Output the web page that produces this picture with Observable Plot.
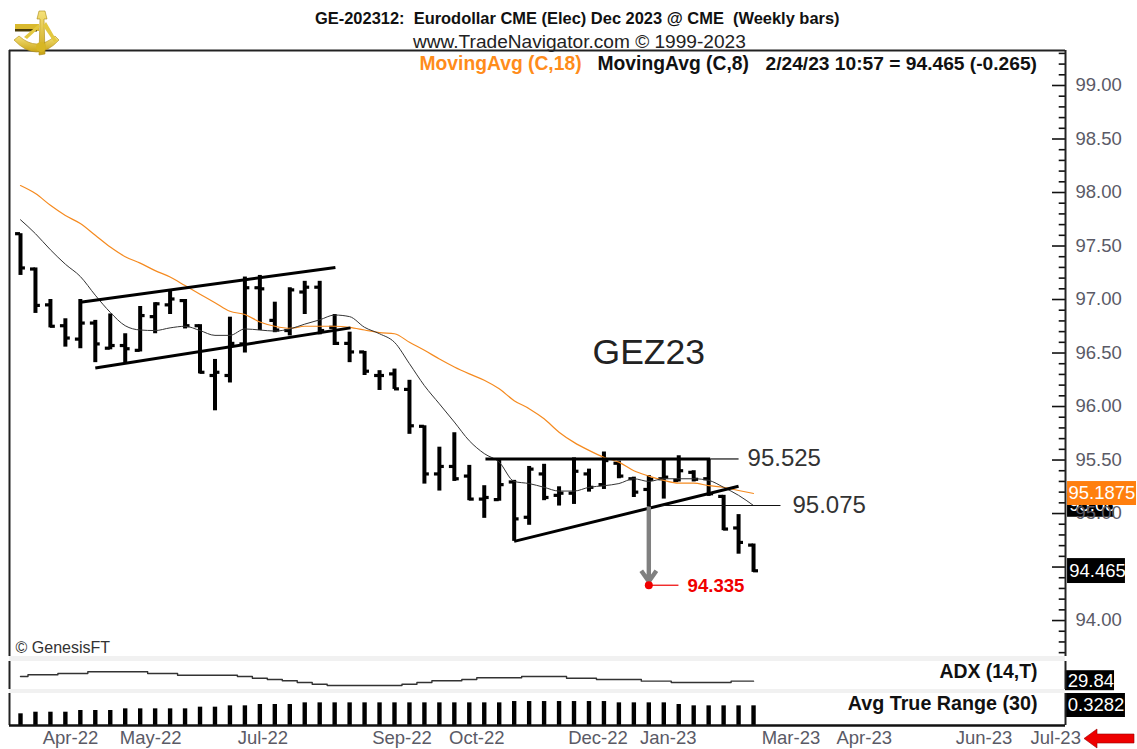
<!DOCTYPE html>
<html>
<head>
<meta charset="utf-8">
<script src="https://cdn.jsdelivr.net/npm/d3@7"></script>
<script src="https://cdn.jsdelivr.net/npm/@observablehq/plot@0.6"></script>
<style>
html,body{margin:0;padding:0;background:#fff;overflow:hidden}
#page{position:relative;width:1137px;height:749px;font-family:"Liberation Sans",Arial,sans-serif;overflow:hidden}
#head{height:50px;position:relative}
#head div{position:absolute;white-space:pre;color:#111}
#page svg{display:block;overflow:visible}
.band{position:absolute;left:9px;width:1056px;background:#f1f1f1}
#logo,#flag{position:absolute;z-index:5}
</style>
</head>
<body>
<div id="page">
  <div class="band" style="top:656px;height:5px"></div>
  <div class="band" style="top:689px;height:4px"></div>
  <svg id="logo" style="left:12px;top:8px" width="50" height="50" viewBox="0 0 50 50">
    <defs><linearGradient id="gold" x1="0" y1="0" x2="0" y2="1"><stop offset="0" stop-color="#f6e27a"/><stop offset="1" stop-color="#c9a415"/></linearGradient></defs>
    <path d="M2 32 Q25 56 47 32 L43 28 Q25 44 7 28Z" fill="url(#gold)" stroke="#b08d12" stroke-width=".6"/>
    <path d="M31 3 L37 3 L39 11 L36 11 L37 46 L31 47 L32 11 L29 11Z" fill="url(#gold)" stroke="#a8870f" stroke-width=".6" transform="translate(-4,0)"/>
    <rect x="3" y="16" width="24" height="7" fill="#d9b92e"/><rect x="3" y="21" width="22" height="2.5" fill="#4a3c08"/>
    <path d="M34 14 L45 33 L42 34 L31 18Z M12 29 L27 16 L28 19 L15 31Z" fill="#e3c83f"/>
    <circle cx="29" cy="39" r="5" fill="#d7b624"/>
  </svg>
  <svg id="flag" style="left:1083px;top:728px" width="52" height="21" viewBox="0 0 52 21">
    <polygon points="1,10.5 14,1 14,6 51,6 51,15 14,15 14,20" fill="#ee0000" stroke="#900" stroke-width=".6"/>
  </svg>
  <div id="head"></div>
  <div id="charts"></div>
</div>
<script>
// ---- header text
const titleText = "GE-202312:  Eurodollar CME (Elec) Dec 2023 @ CME  (Weekly bars)";
const creditText = "www.TradeNavigator.com \u00a9 1999-2023";

// ---- weekly OHLC, one entry per bar
const opens  = [97.615,97.285,96.95,96.755,96.63,96.78,96.545,96.57,96.525,96.84,96.95,96.99,96.755,96.29,96.29,96.585,97.11,96.805,96.71,97.07,97.115,96.74,96.59,96.51,96.29,96.305,96.16,95.815,95.37,95.44,95.35,95.135,95.13,95.295,94.965,95.37,95.17,95.19,95.37,95.27,95.47,95.325,95.225,95.325,95.31,95.385,95.325,95.16,94.865,94.705];
const highs  = [97.615,97.295,97.0,96.82,97.0,96.805,96.865,96.68,96.935,96.97,97.09,97.0,96.765,96.44,96.835,97.21,97.225,96.975,97.11,97.17,97.17,96.86,96.695,96.515,96.335,96.35,96.245,95.82,95.62,95.755,95.45,95.26,95.505,95.31,95.44,95.46,95.25,95.52,95.415,95.575,95.49,95.34,95.355,95.51,95.54,95.40,95.505,95.17,94.99,94.715];
const lows   = [97.225,96.87,96.735,96.555,96.54,96.41,96.53,96.41,96.51,96.68,96.86,96.725,96.305,95.96,96.22,96.5,96.71,96.69,96.66,96.86,96.67,96.57,96.41,96.29,96.15,96.16,95.74,95.275,95.21,95.30,95.12,94.955,95.115,94.74,94.89,95.12,95.07,95.085,95.2,95.225,95.325,95.15,95.06,95.135,95.295,95.295,95.16,94.84,94.62,94.45];
const closes = [97.295,96.945,96.75,96.64,96.78,96.585,96.57,96.54,96.85,96.96,97.005,96.755,96.32,96.32,96.59,97.11,97.10,96.715,97.09,97.115,96.71,96.59,96.51,96.33,96.29,96.165,95.82,95.37,95.44,95.325,95.135,95.15,95.27,94.95,95.415,95.15,95.19,95.395,95.245,95.495,95.35,95.2,95.32,95.34,95.40,95.32,95.185,94.855,94.73,94.465];
const ma8    = [97.745,97.615,97.465,97.33,97.215,97.04,96.88,96.755,96.715,96.71,96.735,96.75,96.71,96.665,96.665,96.725,96.715,96.705,96.725,96.77,96.81,96.855,96.84,96.74,96.68,96.60,96.40,96.195,96.025,95.855,95.68,95.56,95.48,95.30,95.28,95.245,95.21,95.21,95.245,95.26,95.28,95.325,95.30,95.325,95.325,95.325,95.31,95.245,95.17,95.075];
const ma18   = [98.065,97.99,97.88,97.785,97.71,97.60,97.49,97.40,97.34,97.27,97.21,97.13,97.05,96.97,96.89,96.86,96.79,96.75,96.73,96.75,96.75,96.75,96.74,96.715,96.69,96.68,96.60,96.525,96.445,96.37,96.305,96.245,96.165,96.055,95.98,95.885,95.76,95.665,95.59,95.525,95.48,95.40,95.35,95.31,95.285,95.285,95.26,95.245,95.215,95.1875];
const adx    = [34.5,36.2,36.2,37.5,37.5,39.2,39.2,39.2,39.2,37.5,37.5,35.8,35.8,35.8,35.8,34.5,32.8,31.5,30.2,28.5,26.8,25.5,25.5,25.5,25.5,25.5,26.8,28.5,30.2,30.2,31.5,33.2,33.2,33.2,34.5,34.5,34.5,32.8,32.8,31.5,31.5,31.5,29.84,29.84,28.5,28.5,28.5,28.5,29.84,29.84];
const atr    = [0.195,0.222,0.222,0.222,0.25,0.25,0.25,0.278,0.278,0.278,0.278,0.278,0.306,0.306,0.328,0.328,0.35,0.35,0.35,0.378,0.378,0.378,0.378,0.378,0.378,0.378,0.378,0.378,0.378,0.378,0.378,0.378,0.378,0.40,0.40,0.40,0.40,0.40,0.40,0.40,0.378,0.378,0.378,0.378,0.35,0.328,0.328,0.328,0.328,0.3282];
const weeks = opens.map((_, i) => i);

// ---- axis
const dateTicks  = [3.34,8.7,16.2,25.5,30.5,38.6,43.3,51.5,56.4,64.4,69.2];
const dateLabels = ["Apr-22","May-22","Jul-22","Sep-22","Oct-22","Dec-22","Jan-23","Mar-23","Apr-23","Jun-23","Jul-23"];
const majorTicks = [94,94.5,95,95.5,96,96.5,97,97.5,98,98.5,99];
const labelledTicks = [94,95,95.5,96,96.5,97,97.5,98,98.5,99]; // 94.50 sits under the last-price tag
const minorTicks = [93.7,93.8,93.9,94.1,94.2,94.3,94.4,94.6,94.7,94.8,94.9,95.1,95.2,95.3,95.4,95.6,95.7,95.8,95.9,96.1,96.2,96.3,96.4,96.6,96.7,96.8,96.9,97.1,97.2,97.3,97.4,97.6,97.7,97.8,97.9,98.1,98.2,98.3,98.4,98.6,98.7,98.8,98.9,99.1,99.2,99.3];

// ---- hand-drawn trend lines, in bar / price units
const thickLines = [
  {x1:4,   y1:96.975, x2:21.05, y2:97.30},
  {x1:5,   y1:96.36,  x2:22.06, y2:96.735},
  {x1:31.08,y1:95.51, x2:46.1,  y2:95.51},
  {x1:33,  y1:94.74,  x2:48,    y2:95.255}
];
const thinLines = [
  {x1:46.1, y1:95.51, x2:48,   y2:95.51},
  {x1:42.8, y1:95.075,x2:50.8, y2:95.075}
];

const xMin = -0.735, xMax = 69.853;
const yTop = 99.327, yBottom = 93.664;
const font = '"Liberation Sans",Arial,sans-serif';
const base = {width:1137, marginLeft:9, marginRight:72, x:{domain:[xMin,xMax],axis:null}, style:{background:"transparent",fontFamily:font,overflow:"visible"}};
const bars = weeks.map(i => ({i, o:opens[i], h:highs[i], l:lows[i], c:closes[i], m8:ma8[i], m18:ma18[i], adx:adx[i], atr:atr[i]}));

// header
const head = document.getElementById("head");
function addHead(t, left, top, css){const d=document.createElement("div");d.textContent=t;d.style.cssText=`left:${left}px;top:${top}px;${css}`;head.appendChild(d);}
addHead(titleText, 315, 10, "font-weight:bold;font-size:16.45px;line-height:17px");
addHead(creditText, 413, 31, "font-size:19.1px;line-height:21px;color:#222");

// ---- price panel
const main = Plot.plot({
  ...base, height:611, marginTop:0, marginBottom:5,
  y:{domain:[yBottom,yTop],axis:null},
  marks:[
    Plot.rect([{a:69.99,b:73.13,t:95.19,u:94.965}],{x1:"a",x2:"b",y1:"u",y2:"t",fill:"#000"}),
    Plot.text([{a:70.1,p:95.08,s:"95.08"}],{x:"a",y:"p",text:"s",textAnchor:"start",fill:"#fff",fontSize:18.5}),
    Plot.rect([{a:69.99,b:73.86,t:94.579,u:94.346}],{x1:"a",x2:"b",y1:"u",y2:"t",fill:"#000"}),
    Plot.axisY({anchor:"right",ticks:labelledTicks,tickSize:0,tickPadding:10,tickFormat:d3.format(".2f"),fontSize:18.5,fill:"#5a5a66",label:null}),
    Plot.ruleY(minorTicks,{x1:xMax-0.42,x2:xMax,stroke:"#111",strokeWidth:1.6}),
    Plot.ruleY(majorTicks,{x1:xMax-0.87,x2:xMax,stroke:"#111",strokeWidth:1.6}),
    Plot.ruleX(bars,{x:"i",y1:"l",y2:"h",stroke:"#000",strokeWidth:4}),
    Plot.ruleY(bars,{y:"o",x1:d=>d.i-0.33,x2:"i",stroke:"#000",strokeWidth:3.2}),
    Plot.ruleY(bars,{y:"c",x1:"i",x2:d=>d.i+0.33,stroke:"#000",strokeWidth:3.2}),
    Plot.line(bars,{x:"i",y:"m18",stroke:"#f58a1f",strokeWidth:1.2,curve:"monotone-x"}),
    Plot.line(bars,{x:"i",y:"m8",stroke:"#333",strokeWidth:1,curve:"monotone-x"}),
    Plot.link(thickLines,{x1:"x1",y1:"y1",x2:"x2",y2:"y2",stroke:"#000",strokeWidth:3}),
    Plot.link(thinLines,{x1:"x1",y1:"y1",x2:"x2",y2:"y2",stroke:"#111",strokeWidth:1.2}),
    Plot.arrow([{a:42,p:95.06,q:94.365}],{x1:"a",y1:"p",x2:"a",y2:"q",bend:0,stroke:"#808080",strokeWidth:4.4,headLength:4.5,headAngle:70,strokeLinecap:"butt"}),
    Plot.link([{a:42,b:43.98,p:94.33}],{x1:"a",x2:"b",y1:"p",y2:"p",stroke:"#e00",strokeWidth:1.2}),
    Plot.dot([{a:42,p:94.33}],{x:"a",y:"p",r:4,fill:"#f00000",stroke:null}),
    Plot.text(["94.335"],{x:[44.59],y:[94.32],text:d=>d,textAnchor:"start",fill:"#f00000",fontSize:18.6,fontWeight:"bold"}),
    Plot.text(["95.525"],{x:[48.6],y:[95.52],text:d=>d,textAnchor:"start",fill:"#333",fontSize:24}),
    Plot.text(["95.075"],{x:[51.6],y:[95.075],text:d=>d,textAnchor:"start",fill:"#333",fontSize:24}),
    Plot.text(["GEZ23"],{x:[42],y:[96.505],text:d=>d,textAnchor:"middle",fill:"#222",fontSize:35.5}),
    Plot.text(["\u00a9 GenesisFT"],{x:[-0.33],y:[93.74],text:d=>d,textAnchor:"start",fill:"#333",fontSize:16}),
    Plot.text(["MovingAvg (C,18)"],{x:[26.67],y:[99.206],text:d=>d,textAnchor:"start",fill:"#ff8c1a",fontSize:19.3,fontWeight:"bold"}),
    Plot.text(["MovingAvg (C,8)"],{x:[38.57],y:[99.206],text:d=>d,textAnchor:"start",fill:"#111",fontSize:19.3,fontWeight:"bold"}),
    Plot.text(["2/24/23 10:57 = 94.465 (-0.265)"],{x:[49.8],y:[99.206],text:d=>d,textAnchor:"start",fill:"#111",fontSize:19.2,fontWeight:"bold"}),
    Plot.rect([{a:69.99,b:74.6,t:95.299,u:95.075}],{x1:"a",x2:"b",y1:"u",y2:"t",fill:"#ff7f0e"}),
    Plot.text([{a:70.05,p:95.1875,s:"95.1875"}],{x:"a",y:"p",text:"s",textAnchor:"start",fill:"#fff",fontSize:18.5}),
    Plot.text([{a:70.1,p:94.465,s:"94.465"}],{x:"a",y:"p",text:"s",textAnchor:"start",fill:"#fff",fontSize:18.5}),
    Plot.ruleY([yTop],{x1:xMin,x2:xMax,stroke:"#222",strokeWidth:2}),
    Plot.ruleX([xMin,xMax],{y1:yBottom,y2:yTop,stroke:"#222",strokeWidth:2})
  ]
});

// ---- ADX panel
const adxPlot = Plot.plot({
  ...base, height:32, marginTop:0, marginBottom:4,
  y:{domain:[21.5,49.5],axis:null},
  marks:[
    Plot.line(bars,{x:"i",y:"adx",stroke:"#333",strokeWidth:1.4,curve:"step"}),
    Plot.text(["ADX (14,T)"],{x:[67.98],y:[39.5],text:d=>d,textAnchor:"end",fill:"#111",fontSize:19.4,fontWeight:"bold"}),
    Plot.rect([{a:69.85,b:73.13,t:40.3,u:20.3}],{x1:"a",x2:"b",y1:"u",y2:"t",fill:"#000"}),
    Plot.text([{a:70,p:29.84,s:"29.84"}],{x:"a",y:"p",text:"s",textAnchor:"start",fill:"#fff",fontSize:18.5}),
    Plot.ruleX([xMin,xMax],{y1:21.5,y2:49.5,stroke:"#222",strokeWidth:2})
  ]
});

// ---- Average true range panel, with the date axis
const atrPlot = Plot.plot({
  ...base, height:56, marginTop:0, marginBottom:24,
  y:{domain:[0,0.534],axis:null},
  marks:[
    Plot.ruleX(bars,{x:"i",y1:0,y2:"atr",stroke:"#000",strokeWidth:4.4}),
    Plot.text(["Avg True Range (30)"],{x:[67.98],y:[0.367],text:d=>d,textAnchor:"end",fill:"#111",fontSize:19.7,fontWeight:"bold"}),
    Plot.rect([{a:69.85,b:73.86,t:0.534,u:0.1335}],{x1:"a",x2:"b",y1:"u",y2:"t",fill:"#000"}),
    Plot.text([{a:70,p:0.3338,s:"0.3282"}],{x:"a",y:"p",text:"s",textAnchor:"start",fill:"#fff",fontSize:18.5}),
    Plot.ruleX([xMin,xMax],{y1:0,y2:0.534,stroke:"#222",strokeWidth:2}),
    Plot.ruleY([0],{x1:xMin,x2:xMax,stroke:"#111",strokeWidth:2.6}),
    Plot.axisX({anchor:"bottom",ticks:dateTicks,tickSize:0,tickPadding:5,tickFormat:d=>dateLabels[dateTicks.indexOf(d)],fontSize:18.5,fill:"#5a5a66",label:null})
  ]
});

const host = document.getElementById("charts");
host.append(main, adxPlot, atrPlot);
</script>
</body>
</html>
